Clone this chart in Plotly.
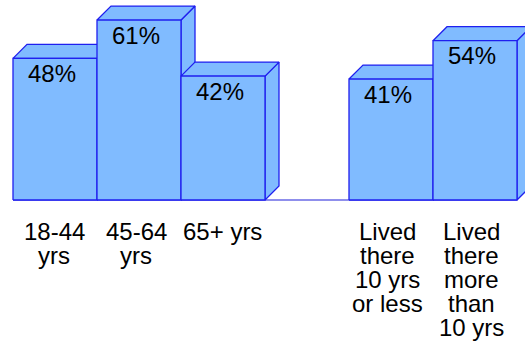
import plotly.graph_objects as go

positions = [0, 1, 2, 4, 5]
values = [48, 61, 42, 41, 54]
value_labels = ["48%", "61%", "42%", "41%", "54%"]
category_lines = [
    ["18-44", "yrs"],
    ["45-64", "yrs"],
    ["65+ yrs"],
    ["Lived", "there", "10 yrs", "or less"],
    ["Lived", "there", "more", "than", "10 yrs"],
]

# style constants
W, H = 525, 349
PX_PER_X = 84.0
PX_PER_Y = 2.95
LEFT_PX = 55
BASE_PX = 200
DX = 14 / PX_PER_X
DY = 14 / PX_PER_Y
FILL = "#80BBFF"
EDGE = "#1F1FEF"
AXIS = "#6A6AE6"
FONT = dict(family="Liberation Sans, Arial, sans-serif", size=24, color="#000000")
LABEL_XSHIFT = [-3, -3, -3, -3, -3]
CAT_XSHIFT = [-1, -3, -1, -4, -4]

fig = go.Figure()


def face(xs, ys):
    fig.add_trace(go.Scatter(
        x=xs, y=ys, mode="lines", fill="toself", fillcolor=FILL,
        line=dict(color=EDGE, width=1.3), hoverinfo="skip", showlegend=False,
    ))


fig.add_trace(go.Scatter(
    x=[positions[0] - 0.5, positions[-1] + 0.5], y=[0, 0], mode="lines",
    line=dict(color=AXIS, width=1.5), hoverinfo="skip", showlegend=False,
))

for p, v in zip(positions, values):
    l, r = p - 0.5, p + 0.5
    face([r, r + DX, r + DX, r, r], [0, DY, v + DY, v, 0])
    face([l, l + DX, r + DX, r, l], [v, v + DY, v + DY, v, v])
    face([l, r, r, l, l], [0, 0, v, v, 0])

annotations = []
for p, v, t, xs in zip(positions, values, value_labels, LABEL_XSHIFT):
    annotations.append(dict(
        x=p, y=v, text=t, showarrow=False, xshift=xs, yshift=-15,
        xanchor="center", yanchor="middle", font=FONT,
    ))
for p, lines, xs in zip(positions, category_lines, CAT_XSHIFT):
    for i, line in enumerate(lines):
        annotations.append(dict(
            x=p, y=0, text=line, showarrow=False, xshift=xs, yshift=-(31 + 24 * i),
            xanchor="center", yanchor="middle", font=FONT,
        ))

fig.update_layout(
    width=W, height=H, margin=dict(l=0, r=0, t=0, b=0, pad=0),
    paper_bgcolor="white", plot_bgcolor="white", showlegend=False,
    xaxis=dict(visible=False, range=[-LEFT_PX / PX_PER_X, (W - LEFT_PX) / PX_PER_X]),
    yaxis=dict(visible=False, range=[-(H - BASE_PX) / PX_PER_Y, BASE_PX / PX_PER_Y]),
    annotations=annotations,
)

fig.write_html(
    "out.html",
    config=dict(displayModeBar=False),
    post_script="document.body.style.margin='0';document.documentElement.style.overflow='hidden';",
)
